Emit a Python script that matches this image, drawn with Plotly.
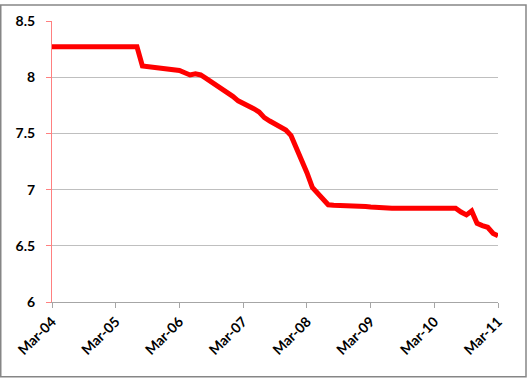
import plotly.graph_objects as go
import pandas as pd

# Monthly series, Mar-2004 .. Mar-2011
dates = pd.date_range("2004-03-01", "2011-03-01", freq="MS")
values = (
    [8.27] * 17 +
    [8.10, 8.095, 8.09, 8.085, 8.08, 8.08, 8.07, 8.06, 8.04, 8.02, 8.03, 8.02,
     7.99, 7.96, 7.93, 7.90, 7.87, 7.83, 7.79, 7.77, 7.745, 7.72, 7.69, 7.64,
     7.61, 7.58, 7.555, 7.53, 7.48, 7.37, 7.27, 7.15, 7.02, 6.97, 6.91, 6.865,
     6.86, 6.86, 6.86, 6.86, 6.855, 6.85, 6.85, 6.845, 6.84, 6.84] +
    [6.835] * 14 +
    [6.80, 6.775, 6.81, 6.70, 6.68, 6.665, 6.61, 6.59, 6.575]
)
tick_dates = pd.date_range("2004-03-01", "2011-03-01", freq="12MS")
tick_labels = ["Mar-04", "Mar-05", "Mar-06", "Mar-07", "Mar-08", "Mar-09", "Mar-10", "Mar-11"]
y_ticks = [6, 6.5, 7, 7.5, 8, 8.5]
y_labels = ["6", "6.5", "7", "7.5", "8", "8.5"]

W, H = 528, 379
ml, mr, mt, mb = 52, 30, 17, 77
pw, ph = W - ml - mr, H - mt - mb

fig = go.Figure()
fig.add_trace(go.Scatter(x=dates, y=values, mode="lines",
                         line=dict(color="#FF0000", width=5), hoverinfo="skip"))

font = dict(family="Lato, Open Sans, sans-serif", size=14, color="#000000")
fig.update_layout(
    width=W, height=H,
    margin=dict(l=ml, r=mr, t=mt, b=mb),
    paper_bgcolor="white", plot_bgcolor="white",
    showlegend=False,
    font=font,
    xaxis=dict(
        type="date",
        range=[dates[0], dates[-1]],
        tickvals=tick_dates, ticktext=tick_labels,
        tickangle=-45,
        showgrid=False,
        showline=True, linecolor="#A6A6A6", linewidth=1,
        ticks="outside", ticklen=5, tickcolor="#A6A6A6",
        tickfont=dict(family="Lato, Open Sans, sans-serif", size=14, color="#000", weight="bold"),
        zeroline=False,
    ),
    yaxis=dict(
        range=[6, 8.5],
        tickvals=y_ticks, ticktext=y_labels,
        showgrid=True, gridcolor="#BFBFBF", gridwidth=1,
        showline=True, linecolor="#FF8080", linewidth=1,
        ticks="outside", ticklen=5, tickcolor="#FF8080",
        ticklabelstandoff=8,
        tickfont=dict(family="Lato, Open Sans, sans-serif", size=14, color="#000", weight="bold"),
        zeroline=False,
    ),
)

# outer chart border (pixel -> paper coords)
def px_x(p):
    return (p - ml) / pw

def px_y(p):
    return (H - mb - p) / ph

fig.add_shape(type="rect", xref="paper", yref="paper",
              x0=px_x(0.75), x1=px_x(526), y0=px_y(0.75), y1=px_y(377.8),
              line=dict(color="#868686", width=1.5), layer="above")

fig.write_html("out.html")
